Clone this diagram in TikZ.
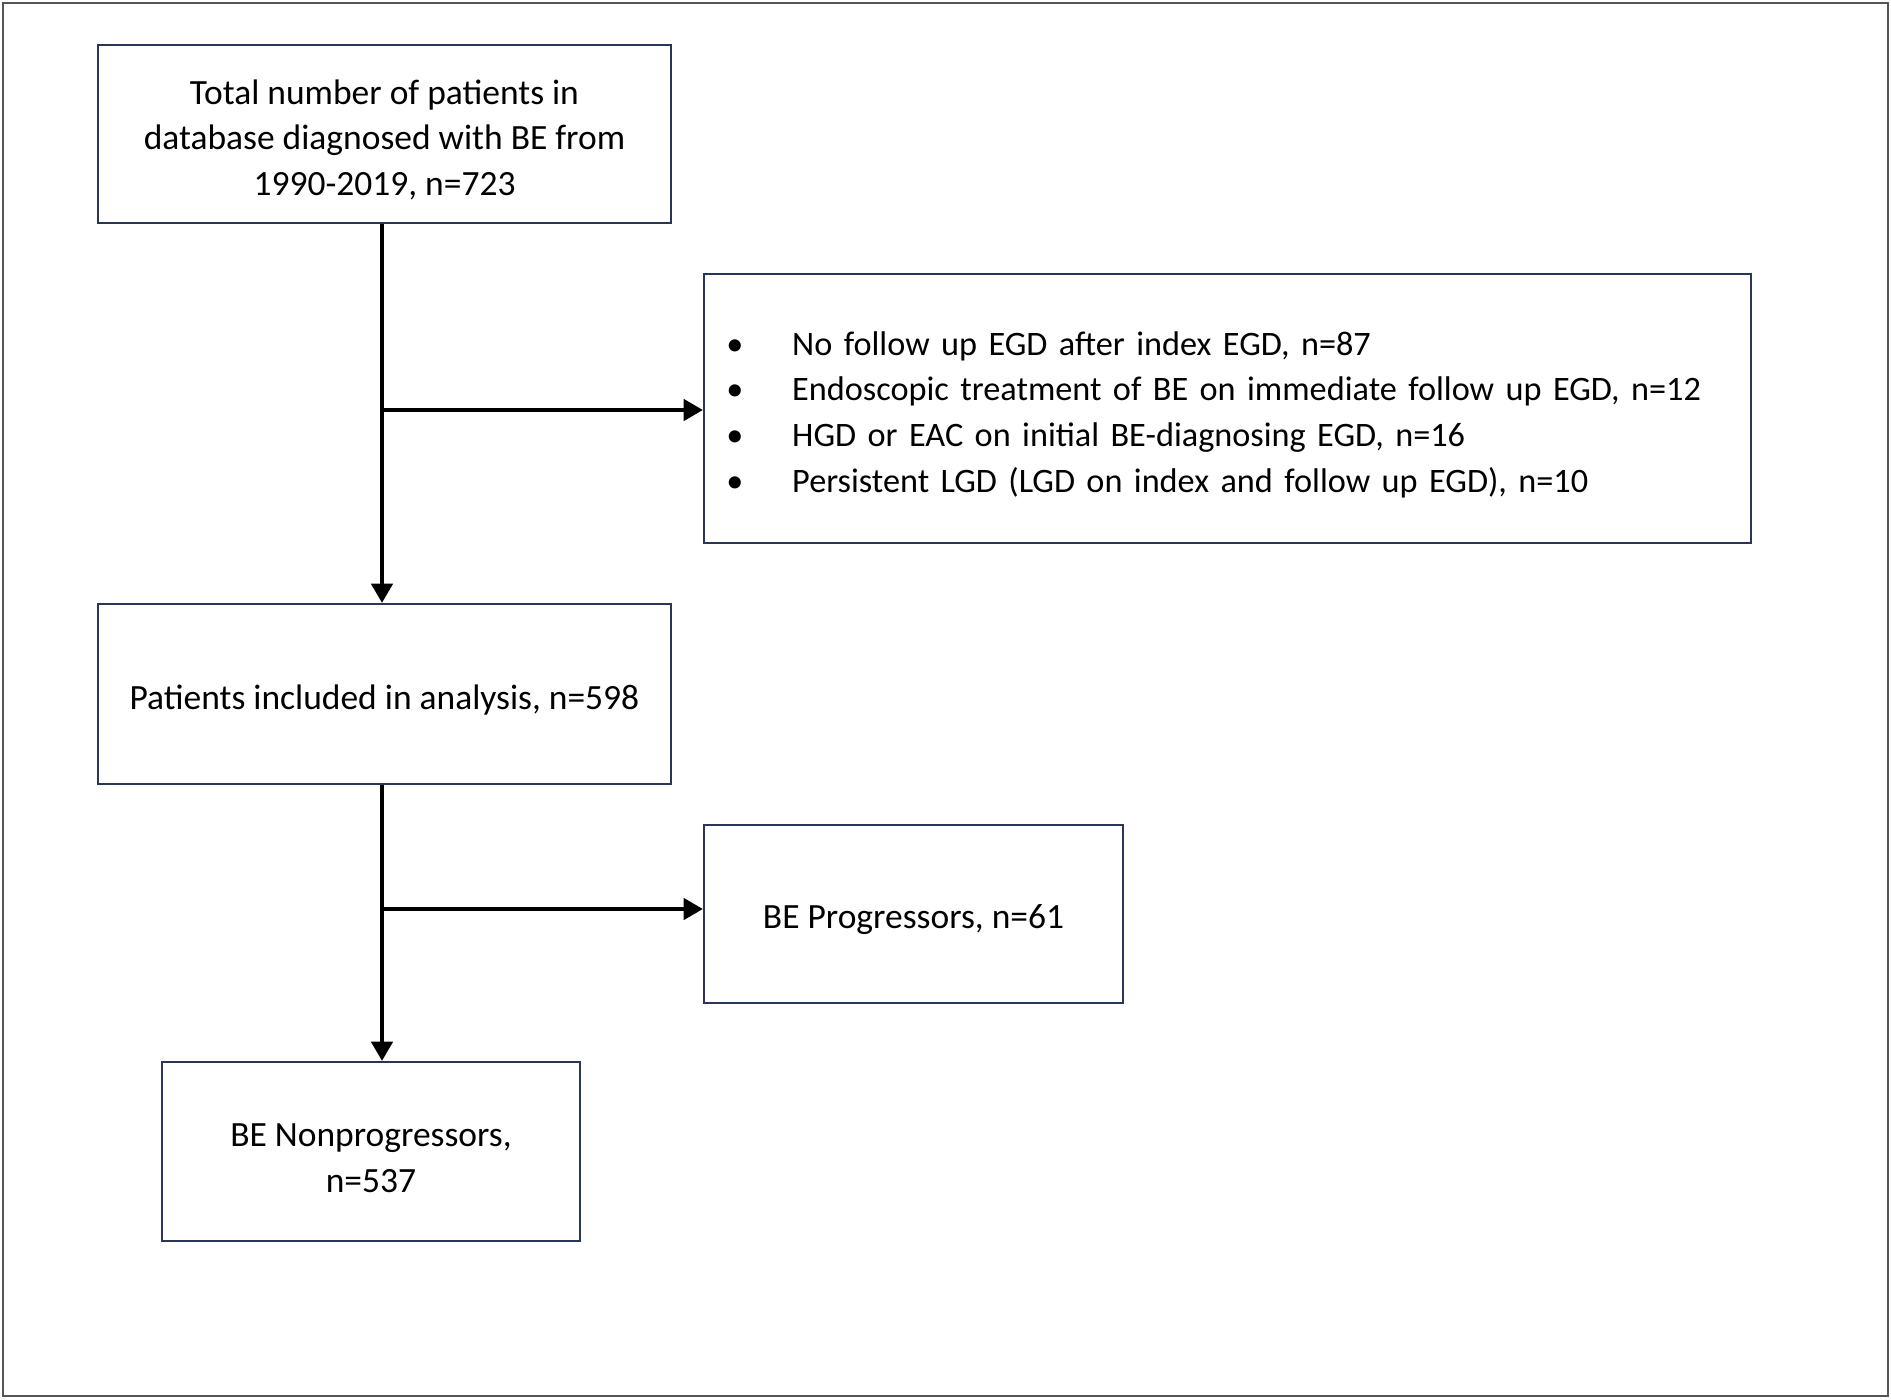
\documentclass[tikz,border=0pt]{standalone}
\usepackage{fontspec}
\setmainfont{Carlito}
\usetikzlibrary{arrows.meta}
\definecolor{boxline}{HTML}{2A3656}
\definecolor{frame}{HTML}{555555}
\newcommand\tstrut{\rule{0pt}{20.5pt}}
\newcommand\bul{\makebox[32pt][l]{\hspace*{-5.5pt}\textbullet}}
\begin{document}
\begin{tikzpicture}[x=0.02cm,y=-0.02cm,
  box/.style={draw=boxline, line width=1.2pt, inner sep=0pt, align=center,
    font=\fontsize{20.2}{26}\selectfont},
  listbox/.style={box, font=\fontsize{19.5}{26}\selectfont},
  arr/.style={line width=2.5pt, -{Triangle[length=11pt,width=12pt]}},
]
\useasboundingbox (0,0) rectangle (1891,1400);
\draw[frame, line width=1.1pt] (3,3) rectangle (1888,1396);
\node[box, minimum width={573*0.02cm}, minimum height={178*0.02cm}] (b1) at (384.5,134)
  {\tstrut Total number of patients in\\database diagnosed with BE from\\1990-2019, n=723};
\node[listbox, minimum width={1047*0.02cm}, minimum height={269*0.02cm}, inner xsep={32*0.02cm}, text width={983*0.02cm}, align=left] (b2) at (1227.5,408.5)
  {\tstrut\bul No follow up EGD after index EGD, n=87\\
   \bul Endoscopic treatment of BE on immediate follow up EGD, n=12\\
   \bul HGD or EAC on initial BE-diagnosing EGD, n=16\\
   \bul Persistent LGD (LGD on index and follow up EGD), n=10};
\node[box, minimum width={573*0.02cm}, minimum height={180*0.02cm}] (b3) at (384.5,694)
  {\tstrut Patients included in analysis, n=598};
\node[box, minimum width={419*0.02cm}, minimum height={178*0.02cm}] (b4) at (913.5,914)
  {\tstrut BE Progressors, n=61};
\node[box, minimum width={418*0.02cm}, minimum height={179*0.02cm}] (b5) at (371,1151.5)
  {\tstrut BE Nonprogressors,\\n=537};
\coordinate (spine) at (382,0);
\coordinate (j1) at (382,410);
\coordinate (j2) at (382,909);
\draw[arr] (b1.south -| spine) -- (b3.north -| spine);
\draw[arr] (j1) -- (j1 -| b2.west);
\draw[arr] (b3.south -| spine) -- (b5.north -| spine);
\draw[arr] (j2) -- (j2 -| b4.west);
\end{tikzpicture}
\end{document}
